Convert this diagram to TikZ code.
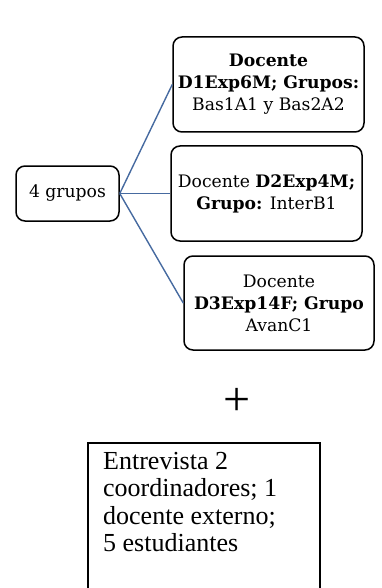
\documentclass[tikz,border=0pt]{standalone}
\usepackage{fontspec}
\setmainfont{DejaVu Serif}
\newfontfamily\timesfont{Liberation Serif}
\definecolor{linkblue}{RGB}{70,106,160}
\begin{document}
\begin{tikzpicture}[x=1pt,y=-1pt,
  rbox/.style={draw=black,line width=1.5pt,rounded corners=9pt,align=center,
    inner sep=0pt,font=\fontsize{17.2}{22}\selectfont},
  link/.style={draw=linkblue,line width=1.4pt}]
\useasboundingbox (0,0) rectangle (381,588);
\node[rbox,minimum width=103pt,minimum height=55pt] (g) at (67.5,193.5) {4 grupos};
\node[rbox,minimum width=191pt,minimum height=95pt] (d1) at (268.5,84.5)
  {\textbf{Docente}\\\textbf{D1Exp6M; Grupos:}\\Bas1A1 y Bas2A2};
\node[rbox,minimum width=191pt,minimum height=95pt] (d2) at (266.5,193.5)
  {Docente \textbf{D2Exp4M;}\\\textbf{Grupo:} InterB1};
\node[rbox,minimum width=190pt,minimum height=94pt] (d3) at (279,303)
  {Docente\\\textbf{D3Exp14F; Grupo}\\AvanC1};
\draw[link] (g.east) -- (d1.west);
\draw[link] (g.east) -- (d2.west);
\draw[link] (g.east) -- (d3.west);
\node[font=\timesfont\fontsize{48}{48}\selectfont,inner sep=0pt] (plus) at (237.5,402) {+};
\begin{scope}
\clip (0,0) rectangle (381,588);
\draw[line width=1.6pt] (88,620) -- (88,443) -- (320,443) -- (320,620);
\end{scope}
\node[anchor=north west,align=left,inner sep=0pt,font=\timesfont\fontsize{26}{27.5}\selectfont] (e) at (103,452)
  {Entrevista 2\\coordinadores; 1\\docente externo;\\5 estudiantes};
\end{tikzpicture}
\end{document}
